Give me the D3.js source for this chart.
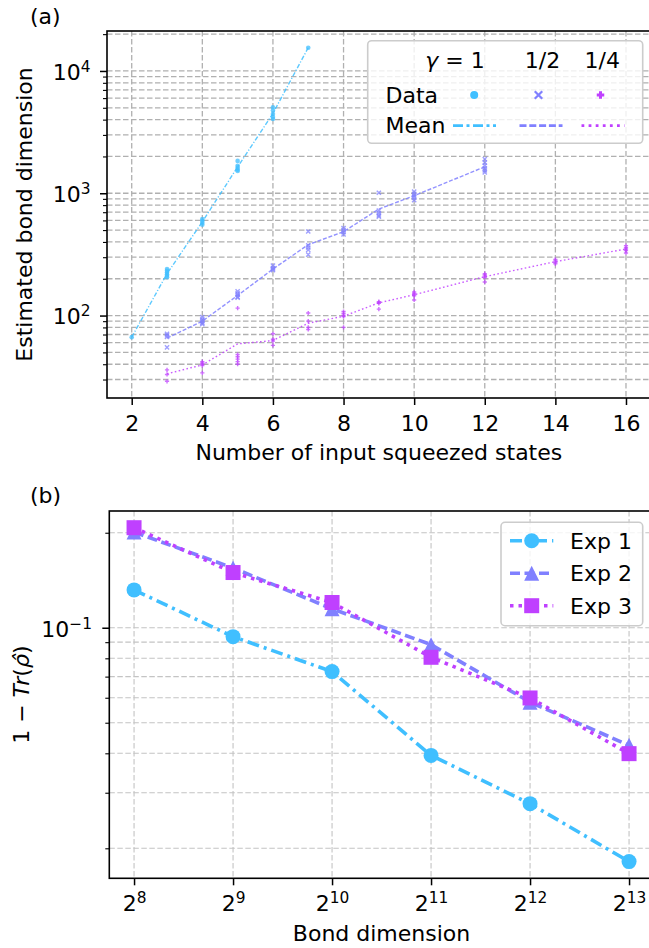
<!DOCTYPE html>
<html>
<head>
<meta charset="utf-8">
<script src="https://cdn.jsdelivr.net/npm/d3@7"></script>
<style>
  body { margin: 0; background: #fff; }
</style>
</head>
<body>
<svg id="chart"></svg>
<script>
// ---------- data, panel (a): estimated bond dimension vs number of squeezed states
const nG1 = [2, 3, 4, 5, 6, 7];
const dataG1 = [[66.6], [240, 232, 225, 218, 212, 206], [615, 595, 575, 553],
  [1840, 1680, 1620, 1560, 1520], [5050, 4750, 4450, 4200, 4050], [15500]];
const meanG1 = [66.6, 220, 585, 1640, 4500, 15500];

const nG2 = [3, 4, 5, 6, 7, 8, 9, 10, 12];
const dataG2 = [[71, 69, 67, 55], [97, 93, 90, 87, 85], [158, 152, 148, 142, 140],
  [256, 245, 240, 235], [487, 375, 360, 345, 315], [520, 500, 480, 460],
  [1010, 720, 690, 660, 645], [1030, 990, 950, 920, 880], [1900, 1780, 1680, 1600, 1540, 1480]];
const meanG2 = [65.3, 90, 146, 240, 380, 485, 743, 955, 1645];

const nG4 = [3, 4, 5, 6, 7, 8, 9, 10, 12, 14, 16];
const dataG4 = [[36, 33, 29], [42, 41, 40, 39, 34], [115, 48, 46, 44, 42, 40], [71, 64, 62, 57],
  [105, 90, 80, 77], [108, 104, 100, 98, 80], [130, 128, 126, 113], [156, 152, 148, 145, 134],
  [220, 215, 210, 205, 188], [288, 280, 272, 265], [373, 360, 350, 340, 325]];
const meanG4 = [33.4, 39.5, 58.7, 62.5, 86.6, 98.7, 127, 148, 208, 276, 350];

const xTicksA = [2, 4, 6, 8, 10, 12, 14, 16];

// ---------- data, panel (b): 1 - Tr(rho) vs bond dimension
const bondExp = [8, 9, 10, 11, 12, 13];
const exp1 = [0.1318, 0.0937, 0.0726, 0.0394, 0.0277, 0.01815];
const exp2 = [0.201, 0.1547, 0.1148, 0.0884, 0.0581, 0.0424];
const exp3 = [0.2075, 0.1496, 0.1202, 0.0806, 0.0599, 0.0399];
const expNames = ["Exp 1", "Exp 2", "Exp 3"];

// ---------- setup
const W = 649, H = 948, FS = 22, SUP = 15.4;
const cols = ["#40bfff", "#8080ff", "#bf40ff"];
const svg = d3.select("#chart").attr("width", W).attr("height", H)
  .style("font-family", "'DejaVu Sans', sans-serif");

function logPad(vals) {
  const lo = Math.log10(d3.min(vals)), hi = Math.log10(d3.max(vals)), m = (hi - lo) * 0.05;
  return [10 ** (lo - m), 10 ** (hi + m)];
}
function minorsOf(y) {
  return y.ticks().filter(d => Math.abs(Math.log10(d) - Math.round(Math.log10(d))) > 1e-6);
}
function supLabel(sel, base, expo) {
  sel.each(function (d) {
    const t = d3.select(this).text(null);
    t.append("tspan").text(base);
    t.append("tspan").attr("dy", -8).attr("font-size", SUP).text(expo(d));
  });
}
function styleAxis(g) {
  g.attr("font-size", FS).attr("font-family", "'DejaVu Sans', sans-serif");
  g.select(".domain").remove();
  g.selectAll(".tick line").attr("stroke", "#000").attr("stroke-width", 1.5);
  g.selectAll(".tick text").attr("fill", "#000");
}
function frame(box) {
  svg.append("rect").attr("x", box.l).attr("y", box.t)
    .attr("width", box.r - box.l).attr("height", box.b - box.t)
    .attr("fill", "none").attr("stroke", "#000").attr("stroke-width", 1.6);
}
function gridLines(g, xs, ys, x, y, box, color, sw) {
  g.selectAll(null).data(xs).join("line")
    .attr("x1", d => x(d)).attr("x2", d => x(d)).attr("y1", box.t).attr("y2", box.b);
  g.selectAll(null).data(ys).join("line")
    .attr("x1", box.l).attr("x2", box.r).attr("y1", d => y(d)).attr("y2", d => y(d));
  g.selectAll("line").attr("stroke", color).attr("stroke-width", sw).attr("stroke-dasharray", "5.5,2.5");
}

// marker paths, centered on 0,0
const mk = {
  circle: s => d3.symbol(d3.symbolCircle, Math.PI * s * s / 4)(),
  x: s => `M${-s / 2},${-s / 2}L${s / 2},${s / 2}M${-s / 2},${s / 2}L${s / 2},${-s / 2}`,
  plus: s => `M${-s / 2},0H${s / 2}M0,${-s / 2}V${s / 2}`,
  tri: s => `M0,${-s / 2}L${s / 2},${s / 2}L${-s / 2},${s / 2}Z`,
  square: s => `M${-s / 2},${-s / 2}h${s}v${s}h${-s}Z`
};

// ================= panel (a)
const A = { l: 107, r: 650.7, t: 31, b: 398 };
const seriesA = [
  { n: nG1, data: dataG1, mean: meanG1, mark: "circle", dash: "4.5,1.8,1.2,1.8" },
  { n: nG2, data: dataG2, mean: meanG2, mark: "x", dash: "4,1.8" },
  { n: nG4, data: dataG4, mean: meanG4, mark: "plus", dash: "1.6,2.4" }
];
const allN = seriesA.flatMap(s => s.n);
const [n0, n1] = d3.extent(allN), padN = (n1 - n0) * 0.05;
const xA = d3.scaleLinear().domain([n0 - padN, n1 + padN]).range([A.l, A.r]);
const yA = d3.scaleLog().domain(logPad(seriesA.flatMap(s => s.data.flat()))).range([A.b, A.t]);
const majorsA = yA.ticks().filter(d => !minorsOf(yA).includes(d));

gridLines(svg.append("g"), xTicksA, yA.ticks(), xA, yA, A, "#b0b0b0", 1.3);

seriesA.forEach((s, i) => {
  const g = svg.append("g");
  const pts = s.n.flatMap((n, j) => s.data[j].map(v => [n, v]));
  const p = g.selectAll(null).data(pts).join("path")
    .attr("transform", d => `translate(${xA(d[0])},${yA(d[1])})`)
    .attr("d", mk[s.mark](s.mark === "circle" ? 4.6 : 4.2))
    .attr("opacity", 0.75);
  if (s.mark === "circle") p.attr("fill", cols[i]);
  else p.attr("fill", "none").attr("stroke", cols[i]).attr("stroke-width", 1.4);
  g.append("path")
    .datum(s.n.map((n, j) => [n, s.mean[j]]))
    .attr("d", d3.line().x(d => xA(d[0])).y(d => yA(d[1])))
    .attr("fill", "none").attr("stroke", cols[i]).attr("stroke-width", 1.4)
    .attr("stroke-dasharray", s.dash).attr("opacity", 0.85);
});

svg.append("g").attr("transform", `translate(0,${A.b})`)
  .call(d3.axisBottom(xA).tickValues(xTicksA).tickSize(7).tickFormat(d3.format("d")))
  .call(styleAxis)
  .call(g => g.selectAll(".tick text").attr("y", 32.7).attr("dy", null));

svg.append("g").attr("transform", `translate(${A.l},0)`)
  .call(d3.axisLeft(yA).tickValues(minorsOf(yA)).tickSize(4).tickFormat(""))
  .call(styleAxis)
  .call(g => g.selectAll(".tick line").attr("stroke-width", 1.1));
svg.append("g").attr("transform", `translate(${A.l},0)`)
  .call(d3.axisLeft(yA).tickValues(majorsA).tickSize(7).tickPadding(9.5).tickFormat(""))
  .call(styleAxis)
  .call(g => g.selectAll(".tick text").attr("dy", 8.3)
    .call(supLabel, "10", d => String(Math.round(Math.log10(d))).replace("-", "\u2212")));

frame(A);

svg.append("text").attr("x", 30).attr("y", 23.5).attr("font-size", FS).text("(a)");
svg.append("text").attr("x", (A.l + A.r) / 2).attr("y", 459.5).attr("text-anchor", "middle")
  .attr("font-size", FS).text("Number of input squeezed states");
svg.append("text").attr("transform", `translate(31.5,${(A.t + A.b) / 2}) rotate(-90)`)
  .attr("text-anchor", "middle").attr("font-size", FS).text("Estimated bond dimension");

// legend (a)
const legA = svg.append("g");
legA.append("rect").attr("x", 367.7).attr("y", 40.7).attr("width", 275).attr("height", 102.6)
  .attr("rx", 4).attr("fill", "#fff").attr("fill-opacity", 0.8)
  .attr("stroke", "#cccccc").attr("stroke-width", 1.6);
const headX = [455, 542.5, 602.3], colX = [474.5, 541, 603];
const h0 = legA.append("text").attr("x", headX[0]).attr("y", 68.3).attr("text-anchor", "middle").attr("font-size", FS);
h0.append("tspan").attr("font-style", "italic").text("γ");
h0.append("tspan").text(" = 1");
["1/2", "1/4"].forEach((t, i) => legA.append("text").attr("x", headX[i + 1]).attr("y", 68.3)
  .attr("text-anchor", "middle").attr("font-size", FS).text(t));
legA.append("text").attr("x", 385.5).attr("y", 102.7).attr("font-size", FS).text("Data");
legA.append("text").attr("x", 385.5).attr("y", 132.7).attr("font-size", FS).text("Mean");
const legDash = ["10,3.5,3,3.5", "7,2.8", "2.8,4.3"];
seriesA.forEach((s, i) => {
  const m = legA.append("path").attr("transform", `translate(${colX[i] - (i === 0 ? 0.3 : 2.5)},95)`)
    .attr("d", mk[s.mark](s.mark === "circle" ? 8 : 7.5));
  if (s.mark === "circle") m.attr("fill", cols[i]);
  else m.attr("fill", "none").attr("stroke", cols[i]).attr("stroke-width", s.mark === "x" ? 2.2 : 3);
  legA.append("line").attr("x1", colX[i] - 21.5).attr("x2", colX[i] + 21.5)
    .attr("y1", 125.7).attr("y2", 125.7)
    .attr("stroke", cols[i]).attr("stroke-width", 2.8).attr("stroke-dasharray", legDash[i]);
});

// ================= panel (b)
const B = { l: 109.3, r: 653.8, t: 511, b: 878.3 };
const bond = bondExp.map(e => 2 ** e);
const seriesB = [
  { v: exp1, mark: "circle", dash: "12,5,3,5" },
  { v: exp2, mark: "tri", dash: "10,4.5" },
  { v: exp3, mark: "square", dash: "3.5,5" }
];
const padE = (d3.max(bondExp) - d3.min(bondExp)) * 0.05;
const xB = d3.scaleLog().base(2)
  .domain([2 ** (d3.min(bondExp) - padE), 2 ** (d3.max(bondExp) + padE)]).range([B.l, B.r]);
const yB = d3.scaleLog().domain(logPad(seriesB.flatMap(s => s.v))).range([B.b, B.t]);
const majorsB = yB.ticks().filter(d => !minorsOf(yB).includes(d));

gridLines(svg.append("g"), bond, yB.ticks(), xB, yB, B, "#c4c4c4", 1.1);

seriesB.forEach((s, i) => {
  const g = svg.append("g");
  g.append("path").datum(bond.map((b, j) => [b, s.v[j]]))
    .attr("d", d3.line().x(d => xB(d[0])).y(d => yB(d[1])))
    .attr("fill", "none").attr("stroke", cols[i]).attr("stroke-width", 3.6)
    .attr("stroke-dasharray", s.dash);
  g.selectAll(null).data(bond.map((b, j) => [b, s.v[j]])).join("path")
    .attr("transform", d => `translate(${xB(d[0])},${yB(d[1])})`)
    .attr("d", mk[s.mark](15)).attr("fill", cols[i]);
});

svg.append("g").attr("transform", `translate(0,${B.b})`)
  .call(d3.axisBottom(xB).tickValues(bond).tickSize(7).tickFormat(""))
  .call(styleAxis)
  .call(g => g.selectAll(".tick text").attr("y", 32.4).attr("dy", null)
    .call(supLabel, "2", d => Math.round(Math.log2(d))));

svg.append("g").attr("transform", `translate(${B.l},0)`)
  .call(d3.axisLeft(yB).tickValues(minorsOf(yB)).tickSize(4).tickFormat(""))
  .call(styleAxis)
  .call(g => g.selectAll(".tick line").attr("stroke-width", 1.1));
svg.append("g").attr("transform", `translate(${B.l},0)`)
  .call(d3.axisLeft(yB).tickValues(majorsB).tickSize(7).tickPadding(10.3).tickFormat(""))
  .call(styleAxis)
  .call(g => g.selectAll(".tick text").attr("dy", 8.3)
    .call(supLabel, "10", d => String(Math.round(Math.log10(d))).replace("-", "\u2212")));

frame(B);

svg.append("text").attr("x", 30).attr("y", 502.5).attr("font-size", FS).text("(b)");
svg.append("text").attr("x", (B.l + B.r) / 2).attr("y", 940.7).attr("text-anchor", "middle")
  .attr("font-size", FS).text("Bond dimension");
const yl = svg.append("text").attr("transform", `translate(28.5,${(B.t + B.b) / 2}) rotate(-90)`)
  .attr("text-anchor", "middle").attr("font-size", FS);
yl.append("tspan").text("1 \u2212 ");
yl.append("tspan").attr("font-style", "italic").text("Tr");
yl.append("tspan").text("(");
yl.append("tspan").attr("font-style", "italic").text("\u03C1\u0302");
yl.append("tspan").text(")");

// legend (b)
const legB = svg.append("g");
legB.append("rect").attr("x", 501).attr("y", 522.3).attr("width", 141.7).attr("height", 103.4)
  .attr("rx", 4).attr("fill", "#fff").attr("fill-opacity", 0.8)
  .attr("stroke", "#cccccc").attr("stroke-width", 1.6);
const rowY = [540.7, 573.3, 605.7];
seriesB.forEach((s, i) => {
  legB.append("line").attr("x1", 510).attr("x2", 553.3).attr("y1", rowY[i]).attr("y2", rowY[i])
    .attr("stroke", cols[i]).attr("stroke-width", 3.6).attr("stroke-dasharray", s.dash);
  legB.append("path").attr("transform", `translate(531.7,${rowY[i]})`)
    .attr("d", mk[s.mark](15)).attr("fill", cols[i]);
  legB.append("text").attr("x", 570).attr("y", rowY[i] + 7.8).attr("font-size", FS).text(expNames[i]);
});
</script>
</body>
</html>
